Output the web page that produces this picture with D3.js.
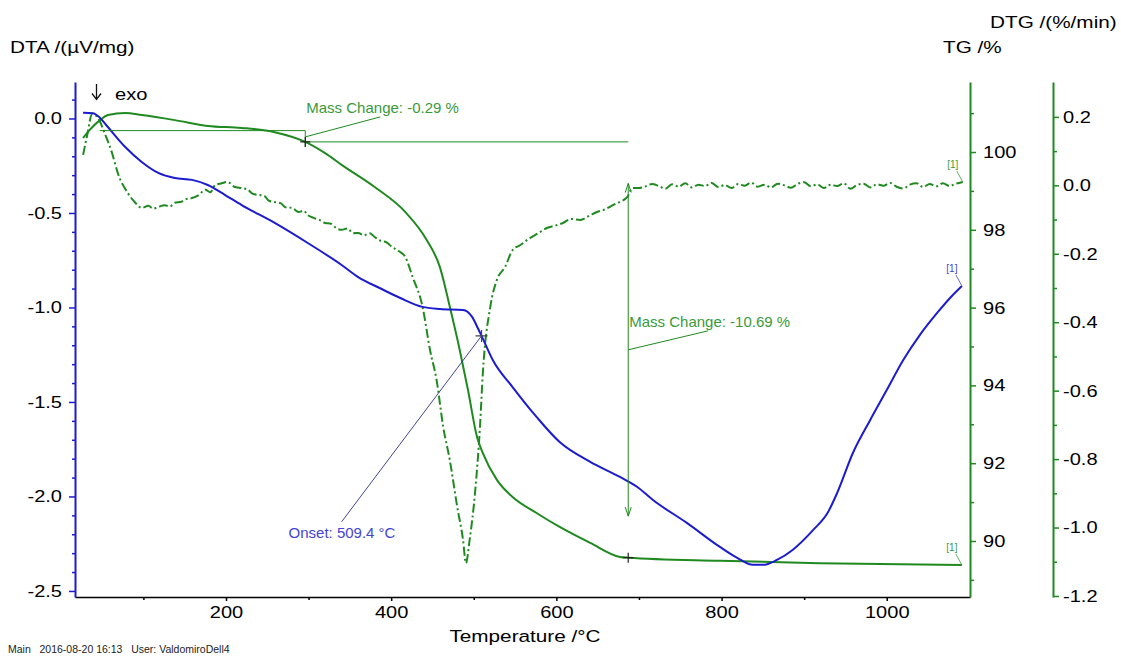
<!DOCTYPE html>
<html>
<head>
<meta charset="utf-8">
<script src="https://cdn.jsdelivr.net/npm/d3@7"></script>
<style>
  body { margin: 0; background: #fff; }
  svg { display: block; }
  text { font-family: "Liberation Sans", Arial, sans-serif; }
</style>
</head>
<body>
<svg id="chart" width="1121" height="657"></svg>
<script>
// ---- Measured curves (temperature in °C) ----
const dtaTemp = [27, 39, 47.5, 57, 78, 98, 118, 138, 159, 178, 199, 219, 259, 299, 340, 360, 386, 411, 438, 459, 487, 498, 505, 511, 523, 547, 576, 604, 641, 677, 698, 717, 758, 798, 819, 838, 850, 867, 886, 911, 929, 940, 959, 980, 1000, 1020, 1040, 1061, 1080, 1091];
const dtaValue = [0.030, 0.028, 0.003, -0.045, -0.151, -0.230, -0.288, -0.315, -0.325, -0.352, -0.405, -0.458, -0.553, -0.659, -0.775, -0.839, -0.897, -0.950, -0.997, -1.008, -1.013, -1.050, -1.110, -1.165, -1.278, -1.421, -1.579, -1.712, -1.817, -1.897, -1.950, -2.019, -2.140, -2.267, -2.325, -2.362, -2.362, -2.336, -2.283, -2.177, -2.082, -1.981, -1.770, -1.595, -1.437, -1.278, -1.146, -1.029, -0.934, -0.886];

const tgTemp = [27, 35, 47.5, 57, 78, 98, 138, 178, 219, 259, 296, 320, 340, 380, 417, 443, 459, 471, 483, 493, 504, 511, 528, 547, 576, 604, 641, 677, 687, 798, 919, 1091];
const tgValue = [100.36, 100.57, 100.82, 100.95, 101.00, 100.95, 100.82, 100.67, 100.62, 100.51, 100.26, 99.97, 99.67, 99.10, 98.46, 97.74, 97.04, 96.02, 94.91, 93.88, 92.67, 92.26, 91.57, 91.13, 90.72, 90.36, 89.95, 89.59, 89.57, 89.49, 89.43, 89.38];

const dtgTemp = [27, 32, 38, 45, 53, 62, 69, 81, 90, 98, 106, 112, 118, 126, 132, 138, 146, 152, 159, 166, 175, 181, 187, 195, 202, 210, 219, 226, 232, 239, 246, 252, 259, 266, 272, 280, 288, 294, 299, 306, 313, 320, 327, 334, 340, 347, 354, 360, 367, 374, 380, 387, 394, 401, 409, 417, 426, 438, 447, 455, 463, 471, 480, 487, 490.5, 495, 501.5, 507.5, 511, 520, 528, 538, 547, 556, 568, 578, 589, 598, 608, 618, 629, 639, 649, 659, 669, 677, 686, 692,
  700, 708, 716, 724, 732, 740, 748, 756, 764, 772, 780, 788, 796, 804, 812, 820, 828, 836, 844, 852, 860, 868, 876, 884, 892, 900, 908, 916, 924, 932, 940, 948, 956, 964, 972, 980, 988, 996, 1004, 1012, 1020, 1028, 1036, 1044, 1052, 1060, 1068, 1076, 1084, 1092];
const dtgValue = [0.089, 0.147, 0.209, 0.197, 0.153, 0.095, 0.036, -0.022, -0.050, -0.066, -0.060, -0.068, -0.063, -0.058, -0.062, -0.051, -0.048, -0.040, -0.037, -0.030, -0.013, -0.020, 0.001, 0.006, 0.010, -0.004, -0.008, -0.012, -0.024, -0.028, -0.030, -0.045, -0.049, -0.052, -0.064, -0.066, -0.078, -0.074, -0.087, -0.095, -0.101, -0.110, -0.112, -0.126, -0.130, -0.126, -0.140, -0.139, -0.146, -0.140, -0.151, -0.162, -0.166, -0.180, -0.192, -0.209, -0.268, -0.355, -0.481, -0.569, -0.706, -0.803, -0.940, -1.036, -1.104, -1.036, -0.899, -0.706, -0.548, -0.355, -0.276, -0.238, -0.189, -0.175, -0.154, -0.140, -0.124, -0.118, -0.110, -0.098, -0.101, -0.090, -0.078, -0.070, -0.057, -0.048, -0.034, -0.008,
  -0.008, -0.003, 0.004, -0.002, -0.010, 0.003, -0.004, 0.006, -0.006, 0.002, -0.002, 0.007, -0.005, 0.001, -0.008, 0.004, -0.001, 0.008, -0.004, 0.002, -0.006, 0.005, 0.000, -0.007, 0.004, 0.009, -0.003, 0.003, -0.008, 0.002, -0.002, 0.006, -0.010, 0.001, 0.005, -0.006, 0.003, -0.001, 0.007, -0.004, -0.009, 0.002, 0.006, -0.005, 0.004, -0.003, 0.006, -0.002, 0.005, 0.010];

// ---- Tick labels ----
const tempTicks = [200, 400, 600, 800, 1000];
const tempMinor = [100, 300, 500, 700, 900];
const dtaTicks = [0.0, -0.5, -1.0, -1.5, -2.0, -2.5];
const dtaMinor = [0.1, -0.1, -0.2, -0.3, -0.4, -0.6, -0.7, -0.8, -0.9, -1.1, -1.2, -1.3, -1.4, -1.6, -1.7, -1.8, -1.9, -2.1, -2.2, -2.3, -2.4];
const tgTicks = [100, 98, 96, 94, 92, 90];
const tgMinor = [101, 99, 97, 95, 93, 91, 89];
const dtgTicks = [0.2, 0.0, -0.2, -0.4, -0.6, -0.8, -1.0, -1.2];
const dtgMinor = [0.1, -0.1, -0.3, -0.5, -0.7, -0.9, -1.1];

// ---- Evaluation results ----
const massStart = 100.55;      // TG level at start of first step
const massChanges = [-0.29, -10.69];
const stepTemps = [47, 296, 687];
const onsetTemp = 509.4;

// ---- Layout ----
const svg = d3.select("#chart");
const plot = { left: 75, right: 970, top: 82, bottom: 597 };
const dtgAxisX = 1053;
const blue = "#1c1ccf", green = "#1f8a1f", greenText = "#3a9a3a", blueText = "#4444d4";
const tickStretch = 1.18, titleStretch = 1.22;

const x = d3.scaleLinear().domain([17.2, 1100.8]).range([plot.left, plot.right]);
const yDTA = d3.scaleLinear().domain([-2.532, 0.193]).range([plot.bottom, plot.top]);
const yTG = d3.scaleLinear().domain([88.56, 101.80]).range([plot.bottom, plot.top]);
const yDTG = d3.scaleLinear().domain([-1.203, 0.302]).range([plot.bottom, plot.top]);

// axis helper: major ticks with labels, minor ticks without
function drawAxis(axisFn, scale, pos, horizontal, major, minor, color, fmt, majorLen, minorLen, pad) {
  const tr = horizontal ? `translate(0,${pos})` : `translate(${pos},0)`;
  svg.append("g").attr("transform", tr)
    .call(axisFn(scale).tickValues(minor).tickSize(minorLen).tickSizeOuter(0).tickFormat(""))
    .call(g => { g.select(".domain").remove(); g.selectAll("line").attr("stroke", color).attr("stroke-width", 1.5); });
  const g = svg.append("g").attr("transform", tr)
    .call(axisFn(scale).tickValues(major).tickSize(majorLen).tickSizeOuter(0).tickPadding(pad).tickFormat(fmt));
  g.select(".domain").attr("stroke", color).attr("stroke-width", horizontal ? 1.5 : 2);
  g.selectAll(".tick line").attr("stroke", color).attr("stroke-width", 1.5);
  const txt = g.selectAll(".tick text").attr("fill", "#000").style("font-size", "17px")
    .attr("transform", `scale(${tickStretch},1)`);
  if (!horizontal) txt.attr("x", function () { return +d3.select(this).attr("x") / tickStretch; });
  return g;
}

drawAxis(d3.axisBottom, x, plot.bottom, true, tempTicks, tempMinor, "#000", d => d, 4, 3, 5);
drawAxis(d3.axisLeft, yDTA, plot.left, false, dtaTicks, dtaMinor, blue, d => d.toFixed(1), 6, 3, 7);
drawAxis(d3.axisRight, yTG, plot.right, false, tgTicks, tgMinor, green, d => d, 6, 4, 7);
drawAxis(d3.axisRight, yDTG, dtgAxisX, false, dtgTicks, dtgMinor, green, d => d.toFixed(1), 6, 4, 4);

// Axis titles (wide face, stretched horizontally)
const title = (t, xx, yy, anchor = "start", sx = titleStretch) => svg.append("text")
  .attr("transform", `translate(${xx},${yy}) scale(${sx},1)`)
  .attr("text-anchor", anchor).style("font-size", "17px").attr("fill", "#000").text(t);
title("DTA /(µV/mg)", 10, 53);
title("TG /%", 943, 53);
title("DTG /(%/min)", 990, 28);
title("Temperature /°C", 525, 642, "middle");
title("exo", 115, 100, "start", tickStretch);

// exo direction arrow
svg.append("path").attr("d", "M96.5,84V99M92,93.5L96.5,99.5L101,93.5")
  .attr("fill", "none").attr("stroke", "#111").attr("stroke-width", 1.3);

svg.append("text").attr("x", 8).attr("y", 653).style("font-size", "10.5px").attr("fill", "#222")
  .attr("xml:space", "preserve").text("Main   2016-08-20 16:13   User: ValdomiroDell4");

// ---- Curves ----
const lineOf = (xs, ys, yScale) => d3.line().curve(d3.curveMonotoneX)
  .x((d, i) => x(xs[i])).y((d, i) => yScale(ys[i]))(xs);

svg.append("path").attr("d", lineOf(dtgTemp, dtgValue, yDTG)).attr("fill", "none")
  .attr("stroke", green).attr("stroke-width", 2).attr("stroke-dasharray", "9,3,2,3");
svg.append("path").attr("d", lineOf(tgTemp, tgValue, yTG)).attr("fill", "none")
  .attr("stroke", green).attr("stroke-width", 2);
svg.append("path").attr("d", lineOf(dtaTemp, dtaValue, yDTA)).attr("fill", "none")
  .attr("stroke", blue).attr("stroke-width", 2);

// ---- Mass change evaluation ----
const level1 = massStart + massChanges[0];
const level2 = level1 + massChanges[1];
const ann = svg.append("g").attr("stroke", green).attr("stroke-width", 1).attr("fill", "none");
ann.append("path").attr("d", `M${x(stepTemps[0])},${yTG(massStart)}H${x(stepTemps[1])}V${yTG(level1) + 5}`);
ann.append("path").attr("d", `M${x(stepTemps[1])},${yTG(level1)}H${x(stepTemps[2])}`);
const cross = (cx, cy, color, s = 6) => svg.append("path")
  .attr("d", `M${cx - s},${cy}H${cx + s}M${cx},${cy - s}V${cy + s}`).attr("stroke", color).attr("stroke-width", 1.2);
cross(x(stepTemps[1]), yTG(level1), "#222", 5);
cross(x(stepTemps[2]), yTG(level2), "#222", 5);

// double arrow for the main step
const span = level1 - level2;
const aTop = yTG(level1 - span * 0.1), aBot = yTG(level2 + span * 0.1), ax = x(stepTemps[2]);
ann.append("path").attr("d", `M${ax},${aTop}V${aBot}`);
ann.append("path").attr("d", `M${ax - 3},${aTop + 9}L${ax},${aTop}L${ax + 3},${aTop + 9}M${ax - 3},${aBot - 9}L${ax},${aBot}L${ax + 3},${aBot - 9}`);

// leader lines and labels
ann.append("path").attr("d", `M${x(stepTemps[1])},${yTG(level1) - 5}L${x(stepTemps[1]) + 75},${yTG(level1) - 25}`);
svg.append("text").attr("x", x(stepTemps[1]) + 1).attr("y", 113).style("font-size", "15px").attr("fill", greenText)
  .text(`Mass Change: ${massChanges[0].toFixed(2)} %`);
ann.append("path").attr("d", `M${ax},${(aTop + aBot) / 2}L${ax + 80},${(aTop + aBot) / 2 - 19}`);
svg.append("text").attr("x", ax + 1).attr("y", (aTop + aBot) / 2 - 23).style("font-size", "15px").attr("fill", greenText)
  .text(`Mass Change: ${massChanges[1].toFixed(2)} %`);

// ---- Onset ----
const onsetVal = d3.scaleLinear().domain(dtaTemp).range(dtaValue)(onsetTemp);
const ox = x(onsetTemp), oy = yDTA(onsetVal);
svg.append("path").attr("d", `M${ox},${oy}L${ox - 140},${oy + 186}`).attr("stroke", "#30308a").attr("stroke-width", 0.9);
cross(ox, oy, "#444", 6);
svg.append("text").attr("x", ox - 193).attr("y", oy + 202).style("font-size", "15px").attr("fill", blueText)
  .text(`Onset: ${onsetTemp.toFixed(1)} °C`);

// ---- Curve end markers ----
function endTag(tx, ty, color) {
  svg.append("path").attr("d", `M${tx},${ty}L${tx - 6},${ty - 11}`).attr("stroke", color).attr("stroke-width", 0.8);
  svg.append("text").attr("x", tx - 10).attr("y", ty - 14).attr("text-anchor", "middle")
    .style("font-size", "10px").attr("fill", color).text("[1]");
}
const last = a => a[a.length - 1];
endTag(x(last(dtaTemp)), yDTA(last(dtaValue)), blueText);
endTag(x(last(dtgTemp)), yDTG(last(dtgValue)), greenText);
endTag(x(last(tgTemp)), yTG(last(tgValue)), greenText);
</script>
</body>
</html>
